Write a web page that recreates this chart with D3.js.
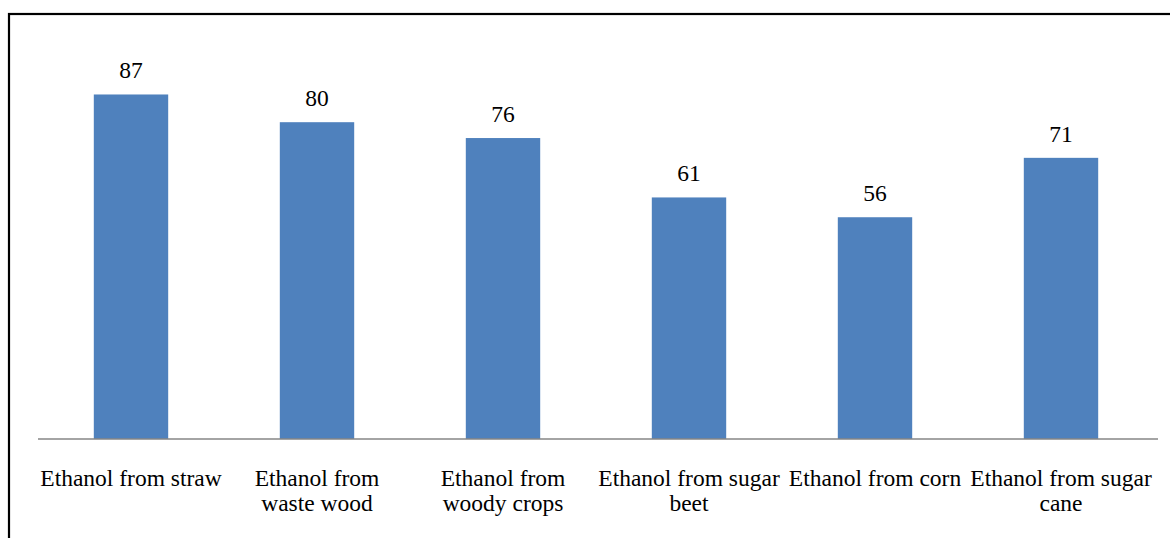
<!DOCTYPE html>
<html>
<head>
<meta charset="utf-8">
<script src="https://cdn.jsdelivr.net/npm/d3@7"></script>
</head>
<body style="margin:0;background:#fff">
<svg id="chart" width="1170" height="538" style="display:block"></svg>
<script>
// Ethanol pathways and their values
const categories = [
  "Ethanol from straw",
  "Ethanol from\nwaste wood",
  "Ethanol from\nwoody crops",
  "Ethanol from sugar\nbeet",
  "Ethanol from corn",
  "Ethanol from sugar\ncane"
];
const values = [87, 80, 76, 61, 56, 71];

const FONT = "Liberation Serif";
const FONT_SIZE = 23.5;
const W = 1170, H = 538;
const svg = d3.select("#chart");

// outer frame (open on right and bottom edges of the view)
svg.append("rect")
  .attr("x", 9).attr("y", 14)
  .attr("width", W + 20).attr("height", H + 20)
  .attr("fill", "none")
  .attr("stroke", "#000")
  .attr("stroke-width", 2.2);

const baseY = 439;
const x = d3.scaleBand()
  .domain(categories)
  .range([38, 1154])
  .paddingInner(0.6)
  .paddingOuter(0.3);

const y = d3.scaleLinear()
  .domain([0, 100])
  .range([baseY, 43]);

// bars
svg.append("g")
  .selectAll("rect")
  .data(values)
  .join("rect")
  .attr("x", (d, i) => x(categories[i]))
  .attr("y", d => y(d))
  .attr("width", x.bandwidth())
  .attr("height", d => y(0) - y(d))
  .attr("fill", "#4F81BD");

// value labels
svg.append("g")
  .selectAll("text")
  .data(values)
  .join("text")
  .attr("font-family", FONT)
  .attr("font-size", FONT_SIZE)
  .attr("x", (d, i) => x(categories[i]) + x.bandwidth() / 2)
  .attr("y", d => y(d) - 16)
  .attr("text-anchor", "middle")
  .attr("fill", "#000")
  .text(d => d);

// category axis line
svg.append("line")
  .attr("x1", 38).attr("x2", 1158)
  .attr("y1", y(0)).attr("y2", y(0))
  .attr("stroke", "#868686")
  .attr("stroke-width", 1.6);

// category labels, one tspan per line
const labels = svg.append("g")
  .selectAll("text")
  .data(categories)
  .join("text")
  .attr("font-family", FONT)
  .attr("font-size", FONT_SIZE)
  .attr("text-anchor", "middle")
  .attr("fill", "#000");
labels.each(function(d) {
  const cx = x(d) + x.bandwidth() / 2;
  d.split("\n").forEach((line, k) => {
    d3.select(this).append("tspan")
      .attr("x", cx)
      .attr("y", y(0) + 47 + k * 25)
      .text(line);
  });
});
</script>
</body>
</html>
